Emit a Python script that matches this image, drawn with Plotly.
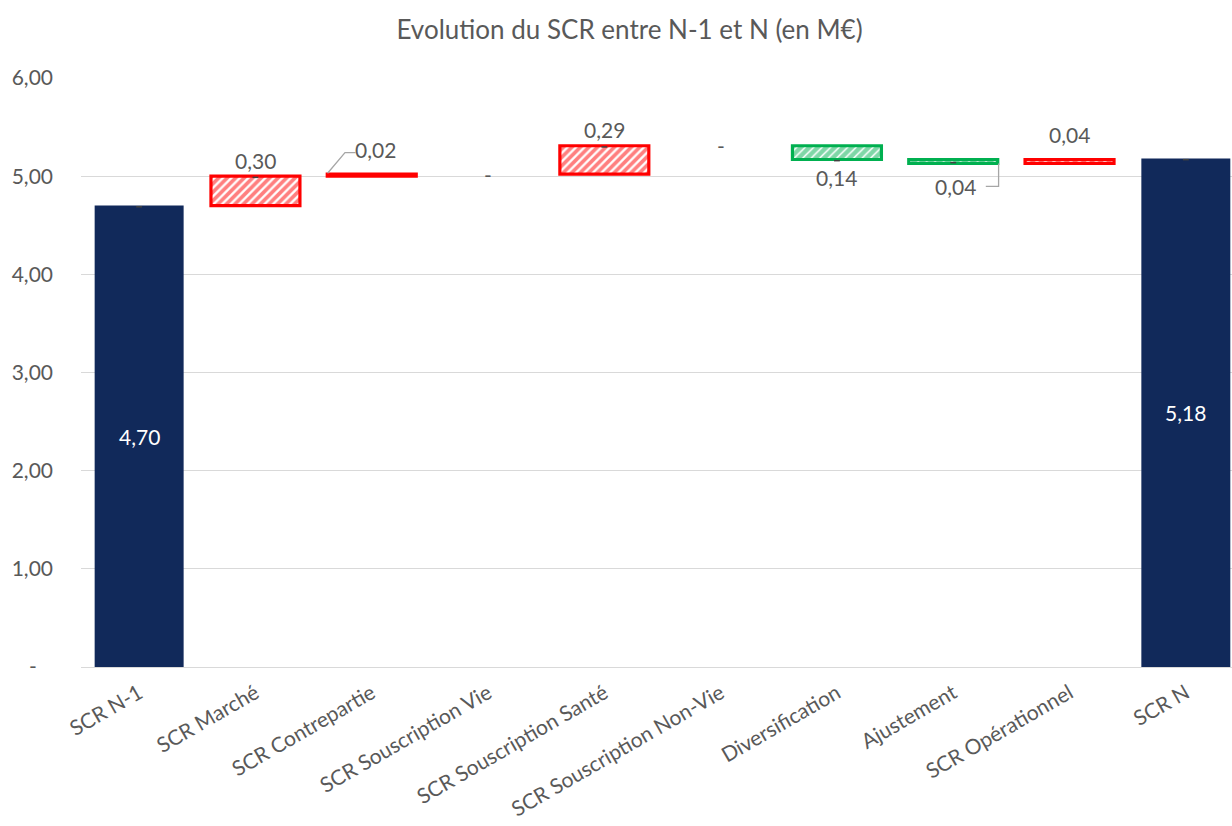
import plotly.graph_objects as go

# Waterfall data (M€)
categories = ["SCR N-1", "SCR Marché", "SCR Contrepartie", "SCR Souscription Vie",
              "SCR Souscription Santé", "SCR Souscription Non-Vie", "Diversification",
              "Ajustement", "SCR Opérationnel", "SCR N"]
start_total = 4.70
deltas = [0.30, 0.02, 0.00, 0.29, 0.00, -0.14, -0.04, 0.04]
end_total = 5.18
y_ticks = [0, 1, 2, 3, 4, 5, 6]
y_tick_labels = ["-\u00a0\u00a0\u00a0", "1,00", "2,00", "3,00", "4,00", "5,00", "6,00"]

NAVY = "#11295A"
RED = "#FF0000"
GREEN = "#00B050"
TXT = "#595959"
FONT = "Lato"


def fmt(v):
    return "-" if abs(v) < 1e-9 else f"{abs(v):.2f}".replace(".", ",")


# floating bars: start level and end level of each step
levels = [start_total]
for d in deltas:
    levels.append(levels[-1] + d)
step_cats = categories[1:-1]

inc_x, inc_base, inc_y = [], [], []
dec_x, dec_base, dec_y = [], [], []
for i, d in enumerate(deltas):
    if d > 0:
        inc_x.append(step_cats[i]); inc_base.append(levels[i]); inc_y.append(d)
    elif d < 0:
        dec_x.append(step_cats[i]); dec_base.append(levels[i]); dec_y.append(d)

BW = 0.765
fig = go.Figure()
fig.add_bar(x=[categories[0], categories[-1]], y=[start_total, end_total],
            marker=dict(color=NAVY, line=dict(width=0)), width=BW,
            hoverinfo="skip", showlegend=False)
fig.add_bar(x=inc_x, y=inc_y, base=inc_base, width=BW,
            marker=dict(color="white", line=dict(color=RED, width=3.2),
                        pattern=dict(shape="/", fgcolor=RED, bgcolor="white",
                                     size=6, solidity=0.62)),
            hoverinfo="skip", showlegend=False)
fig.add_bar(x=dec_x, y=dec_y, base=dec_base, width=BW,
            marker=dict(color="white", line=dict(color=GREEN, width=3.2),
                        pattern=dict(shape="/", fgcolor=GREEN, bgcolor="white",
                                     size=6, solidity=0.75)),
            hoverinfo="skip", showlegend=False)

ann = []
shapes = []
lab_font = dict(family=FONT, size=21, color=TXT)

# totals, written inside the bars
for idx, v in ((0, start_total), (len(categories) - 1, end_total)):
    ann.append(dict(x=idx, y=v / 2, text=fmt(v), showarrow=False,
                    font=dict(family=FONT, size=21, color="white")))

# tiny ticks left by the hidden helper series
for idx, yv in ((0, start_total), (1, levels[1]), (4, levels[4]), (6, levels[6]),
                (7, (levels[6] + levels[7]) / 2), (9, end_total)):
    shapes.append(dict(type="line", xref="x", yref="y", x0=idx - 0.025, x1=idx + 0.025,
                       y0=yv - 0.012, y1=yv - 0.012,
                       line=dict(color="#404040", width=1.5)))

leader_cats = {2, 7}
above_shift = {8: 25}
for i, d in enumerate(deltas):
    idx = i + 1
    top = max(levels[i], levels[i + 1])
    bot = min(levels[i], levels[i + 1])
    if idx in leader_cats:
        continue
    if d == 0:
        ann.append(dict(x=idx, y=levels[i], text=fmt(d), showarrow=False,
                        font=lab_font))
    elif d > 0:
        ann.append(dict(x=idx, y=top, text=fmt(d), showarrow=False,
                        yshift=above_shift.get(idx, 16), font=lab_font))
    else:
        ann.append(dict(x=idx, y=bot, text=fmt(d), showarrow=False,
                        yshift=-18, font=lab_font))

# labels moved aside with leader lines
ann.append(dict(x=2.03, y=levels[2] + 0.25, text=fmt(deltas[1]), showarrow=False,
                font=lab_font))
shapes.append(dict(type="path", xref="x", yref="y",
                   path=f"M 1.62 {levels[2] + 0.01} L 1.77 {levels[2] + 0.22} L 1.86 {levels[2] + 0.22}",
                   line=dict(color="#A6A6A6", width=1.3)))
ann.append(dict(x=7.02, y=levels[7] - 0.24, text=fmt(deltas[6]), showarrow=False,
                font=lab_font))
shapes.append(dict(type="path", xref="x", yref="y",
                   path=f"M 7.39 {levels[7]} L 7.39 {levels[7] - 0.235} L 7.28 {levels[7] - 0.235}",
                   line=dict(color="#A6A6A6", width=1.3)))

fig.update_layout(
    width=1232, height=826,
    margin=dict(l=81, r=0, t=78, b=159),
    paper_bgcolor="white", plot_bgcolor="white",
    barmode="overlay",
    title=dict(text="Evolution du SCR entre N-1 et N (en M€)", x=0.511, xanchor="center",
               y=0.964, yanchor="middle",
               font=dict(family=FONT, size=26, color=TXT)),
    xaxis=dict(type="category", categoryorder="array", categoryarray=categories,
               range=[-0.5, 9.397], showgrid=False, showline=False, ticks="",
               tickangle=-30, ticklabelstandoff=9, automargin=False,
               tickfont=dict(family=FONT, size=21, color=TXT)),
    yaxis=dict(range=[0, 6], tickvals=y_ticks, ticktext=y_tick_labels,
               showgrid=True, gridcolor="#D9D9D9", gridwidth=1.3,
               zeroline=True, zerolinecolor="#D9D9D9", zerolinewidth=1.3,
               showline=False, ticks="", ticklabelstandoff=27, automargin=False,
               tickfont=dict(family=FONT, size=21, color=TXT)),
    annotations=ann,
    shapes=shapes,
)

fig.write_html("out.html")
